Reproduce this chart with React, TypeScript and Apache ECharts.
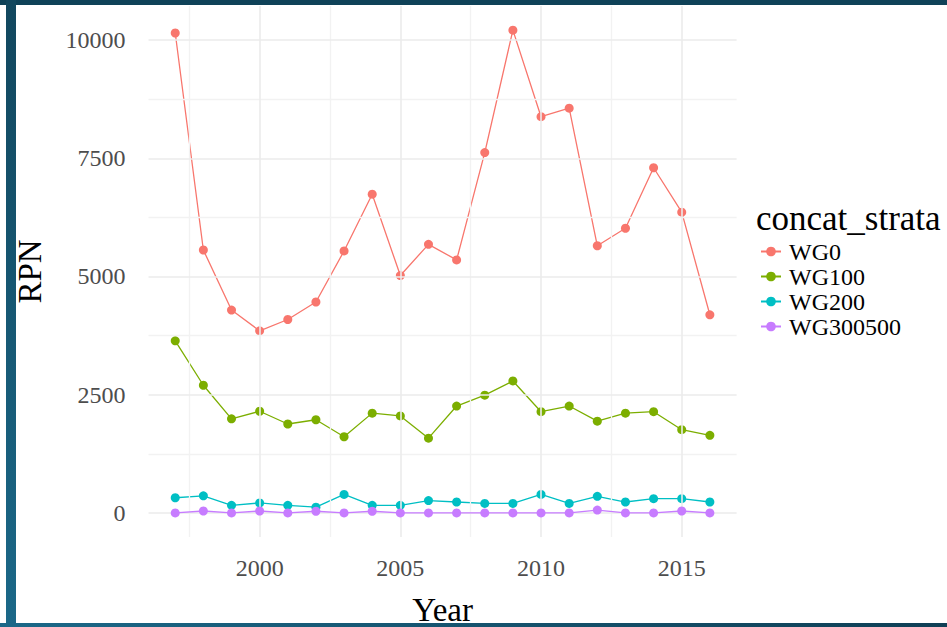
import React, { useEffect, useRef } from "react";
import * as echarts from "echarts";

const years = [1997, 1998, 1999, 2000, 2001, 2002, 2003, 2004, 2005, 2006, 2007, 2008, 2009, 2010, 2011, 2012, 2013, 2014, 2015, 2016];
const wg0 = [10150, 5560, 4290, 3850, 4090, 4460, 5540, 6740, 5020, 5680, 5350, 7620, 10210, 8380, 8560, 5650, 6020, 7300, 6360, 4190];
const wg100 = [3640, 2700, 1990, 2150, 1880, 1970, 1610, 2110, 2050, 1580, 2260, 2490, 2790, 2140, 2260, 1940, 2110, 2140, 1760, 1640];
const wg200 = [320, 360, 160, 210, 160, 120, 390, 160, 160, 260, 230, 200, 200, 390, 200, 350, 230, 300, 300, 230];
const wg300500 = [0, 40, 0, 40, 0, 35, 0, 35, 0, 0, 0, 0, 0, 0, 0, 60, 0, 0, 40, 0];

const seriesNames = ["WG0", "WG100", "WG200", "WG300500"];
const seriesValues = [wg0, wg100, wg200, wg300500];
const colors = ["#F8766D", "#7CAE00", "#00BFC4", "#C77CFF"];

const xTicks = [2000, 2005, 2010, 2015];
const xMinor = [1997.5, 2002.5, 2007.5, 2012.5];
const yTicks = [0, 2500, 5000, 7500, 10000];
const yMinor = [1250, 3750, 6250, 8750];

const legendTitle = "concat_strata";
const xName = "Year";
const yName = "RPN";

const SERIF = "Liberation Serif";

export default function App() {
  const ref = useRef<HTMLDivElement>(null);
  useEffect(() => {
    if (!ref.current) return;
    const chart = echarts.init(ref.current, null, { renderer: "svg" });
    const majorStyle = { color: "#ebebeb", width: 1.6, type: "solid" };
    const minorStyle = { color: "#f2f2f2", width: 1.3, type: "solid" };
    const gridLines = [
      ...yMinor.map((v) => ({ yAxis: v, lineStyle: minorStyle })),
      ...xMinor.map((v) => ({ xAxis: v, lineStyle: minorStyle })),
      ...yTicks.map((v) => ({ yAxis: v, lineStyle: majorStyle })),
      ...xTicks.map((v) => ({ xAxis: v, lineStyle: majorStyle })),
    ];
    const option: any = {
      animation: false,
      backgroundColor: "#ffffff",
      textStyle: { fontFamily: SERIF },
      title: {
        text: "{t|" + legendTitle + "}",
        left: 756,
        top: 201,
        padding: 0,
        textStyle: {
          fontFamily: SERIF,
          fontSize: 35,
          fontWeight: "normal",
          color: "#000000",
          rich: { t: { fontFamily: SERIF, fontSize: 35, fontWeight: "normal", color: "#000000" } },
        },
      },
      legend: {
        data: seriesNames,
        orient: "vertical",
        left: 760,
        top: 239,
        padding: 0,
        itemGap: 0,
        itemWidth: 20,
        itemHeight: 12,
        formatter: (name: string) => "{n|" + name + "}",
        textStyle: {
          fontFamily: SERIF,
          fontSize: 24,
          color: "#000000",
          lineHeight: 25,
          padding: [0, 0, 0, 3],
          rich: { n: { fontFamily: SERIF, fontSize: 24, color: "#000000", lineHeight: 25 } },
        },
      },
      grid: {
        left: 148.5,
        right: 210.4,
        top: 6,
        bottom: 90,
        containLabel: false,
        outerBoundsMode: "none",
      },
      xAxis: {
        type: "value",
        min: 1996.05,
        max: 2016.95,
        name: xName,
        nameLocation: "middle",
        nameGap: 56,
        nameTextStyle: { fontFamily: SERIF, fontSize: 33, color: "#000000" },
        axisLine: { show: false },
        axisTick: { show: false },
        splitLine: { show: false },
        axisLabel: {
          customValues: xTicks,
          margin: 19,
          fontFamily: SERIF,
          fontSize: 24,
          color: "#4d4d4d",
          formatter: (v: number) => String(v),
        },
      },
      yAxis: {
        type: "value",
        min: -510,
        max: 10721,
        name: yName,
        nameLocation: "middle",
        nameRotate: 90,
        nameGap: 102,
        nameTextStyle: { fontFamily: SERIF, fontSize: 33, color: "#000000" },
        axisLine: { show: false },
        axisTick: { show: false },
        splitLine: { show: false },
        axisLabel: {
          customValues: yTicks,
          margin: 23,
          fontFamily: SERIF,
          fontSize: 24,
          color: "#4d4d4d",
          formatter: (v: number) => String(v),
        },
      },
      series: [
        {
          type: "line",
          name: "__grid",
          data: [],
          z: 0,
          silent: true,
          markLine: {
            silent: true,
            symbol: ["none", "none"],
            label: { show: false },
            emphasis: { disabled: true },
            animation: false,
            data: gridLines,
          },
        },
        ...seriesNames.map((name, i) => ({
          type: "line",
          name,
          z: 2 + i,
          data: years.map((y, j) => [y, seriesValues[i][j]]),
          symbol: "circle",
          symbolSize: 9,
          showSymbol: true,
          lineStyle: { color: colors[i], width: 1.3 },
          itemStyle: { color: colors[i] },
          emphasis: { disabled: true },
        })),
      ],
      graphic: [
        {
          type: "rect",
          shape: { x: 0, y: 0, width: 947, height: 5 },
          style: { fill: "#0f4258" },
          z: 100,
        },
        {
          type: "rect",
          shape: { x: 6, y: 0, width: 10, height: 627 },
          style: {
            fill: new echarts.graphic.LinearGradient(0, 0, 0, 1, [
              { offset: 0, color: "#12475e" },
              { offset: 1, color: "#1b6888" },
            ]),
          },
          z: 100,
        },
        {
          type: "rect",
          shape: { x: 0, y: 623, width: 947, height: 4 },
          style: {
            fill: new echarts.graphic.LinearGradient(0, 0, 1, 0, [
              { offset: 0, color: "#1b6888" },
              { offset: 1, color: "#0f3f55" },
            ]),
          },
          z: 100,
        },
      ],
    };
    chart.setOption(option);
    return () => chart.dispose();
  }, []);
  return (
    <div
      ref={ref}
      style={{ position: "fixed", left: 0, top: 0, width: 947, height: 627, background: "#ffffff" }}
    />
  );
}
